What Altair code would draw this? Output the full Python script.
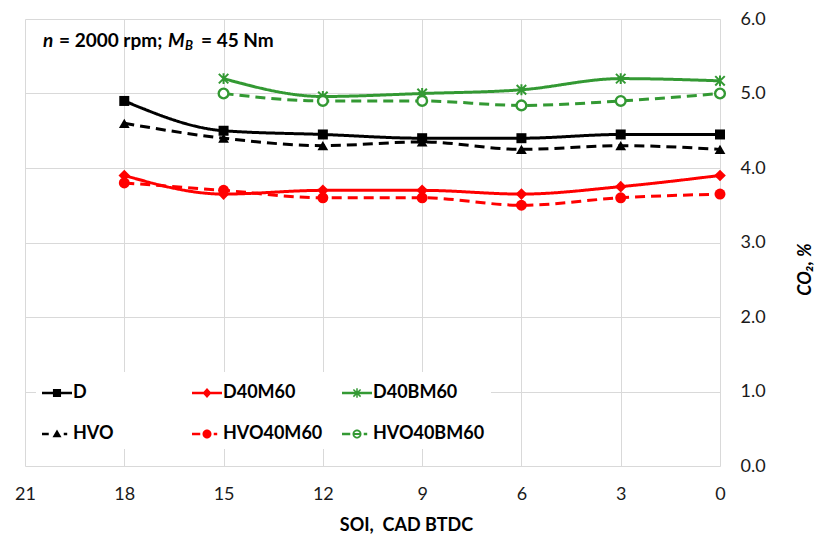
import math
import altair as alt
import pandas as pd

# ---------------- data ----------------
soi = [18, 15, 12, 9, 6, 3, 0]
series_order = ["D", "HVO", "D40M60", "HVO40M60", "D40BM60", "HVO40BM60"]
d_vals = [4.90, 4.50, 4.45, 4.40, 4.40, 4.45, 4.45]
hvo_vals = [4.60, 4.40, 4.30, 4.35, 4.25, 4.30, 4.25]
d40m60_vals = [3.90, 3.65, 3.70, 3.70, 3.65, 3.75, 3.90]
hvo40m60_vals = [3.80, 3.70, 3.60, 3.60, 3.50, 3.60, 3.65]
d40bm60_vals = [None, 5.20, 4.96, 5.00, 5.05, 5.20, 5.17]
hvo40bm60_vals = [None, 5.00, 4.90, 4.90, 4.84, 4.90, 5.00]
x_ticks = [21, 18, 15, 12, 9, 6, 3, 0]
y_ticks = [0, 1, 2, 3, 4, 5, 6]

all_vals = [d_vals, hvo_vals, d40m60_vals, hvo40m60_vals, d40bm60_vals, hvo40bm60_vals]
rows = []
for name, vals in zip(series_order, all_vals):
    for s, v in zip(soi, vals):
        if v is not None:
            rows.append({"soi": s, "co2": v, "series": name})
df = pd.DataFrame(rows)

# ---------------- styles ----------------
BLACK, RED, GREEN = "#000000", "#FF0000", "#339933"
series_colors = [BLACK, BLACK, RED, RED, GREEN, GREEN]
dash_patterns = [[1, 0], [10, 6], [1, 0], [10, 6], [1, 0], [10, 6]]
FONT = "Lato"
STAR = "M-1,-1L1,1M-1,1L1,-1M0,-1.15L0,1.15"


# legend symbol paths (line segment + marker), normalized [-1, 1]
def poly(points, ccw=True):
    n = len(points)
    area = sum(points[i][0] * points[(i + 1) % n][1] - points[(i + 1) % n][0] * points[i][1] for i in range(n))
    if (area > 0) != ccw:
        points = points[::-1]
    return "M" + "L".join(f"{x:.3f},{y:.3f}" for x, y in points) + "Z"


def rect(x1, x2, h, ccw=True):
    return poly([(x1, -h), (x2, -h), (x2, h), (x1, h)], ccw)


def seg(x1, y1, x2, y2, w):
    dx, dy = x2 - x1, y2 - y1
    L = math.hypot(dx, dy)
    nx, ny = -dy / L * w, dx / L * w
    return poly([(x1 + nx, y1 + ny), (x2 + nx, y2 + ny), (x2 - nx, y2 - ny), (x1 - nx, y1 - ny)])


def circ(r, ccw=True, n=28):
    return poly([(r * math.cos(2 * math.pi * k / n), r * math.sin(2 * math.pi * k / n)) for k in range(n)], ccw)


LW = 0.09
leg_D = rect(-1, 1, LW) + poly([(-0.27, -0.27), (0.27, -0.27), (0.27, 0.27), (-0.27, 0.27)])
leg_HVO = rect(-1, -0.55, LW) + poly([(0, -0.3), (0.3, 0.22), (-0.3, 0.22)]) + rect(0.45, 0.68, LW)
leg_D40M60 = rect(-1, 1, LW) + poly([(0, -0.33), (0.3, 0), (0, 0.33), (-0.3, 0)])
leg_HVO40M60 = rect(-1, -0.45, LW) + circ(0.3) + rect(0.45, 0.68, LW)
leg_D40BM60 = (rect(-1, 1, LW) + seg(-0.24, -0.24, 0.24, 0.24, 0.05)
               + seg(-0.24, 0.24, 0.24, -0.24, 0.05) + seg(0, -0.32, 0, 0.32, 0.05))
leg_HVO40BM60 = (rect(-1, -0.45, LW) + circ(0.3) + circ(0.18, ccw=False)
                 + rect(-0.18, 0.18, 0.06) + rect(0.45, 0.68, LW))
legend_paths = [leg_D, leg_HVO, leg_D40M60, leg_HVO40M60, leg_D40BM60, leg_HVO40BM60]

# ---------------- encodings ----------------
x_enc = alt.X(
    "soi:Q",
    scale=alt.Scale(domain=[0, 21], reverse=True, nice=False, zero=False),
    axis=alt.Axis(
        values=x_ticks, format="d", title="SOI,\u00a0 CAD BTDC",
        grid=True, gridColor="#d9d9d9", gridWidth=1, domain=False, ticks=False,
        labelFont=FONT, labelFontSize=18, labelColor="#1a1a1a", labelPadding=19,
        labelFlush=False, labelOverlap=False,
        titleFont=FONT, titleFontSize=18, titleFontWeight="bold", titleColor="#000000",
        titleX=381, titleY=59, titleAlign="center", titleBaseline="middle",
    ),
)
y_enc = alt.Y(
    "co2:Q",
    scale=alt.Scale(domain=[0, 6], nice=False, zero=True),
    axis=alt.Axis(
        orient="right", values=y_ticks, format=".1f", title="CO\u2082, %",
        grid=True, gridColor="#d9d9d9", gridWidth=1, domain=False, ticks=False,
        labelFont=FONT, labelFontSize=18, labelColor="#1a1a1a", labelPadding=20,
        labelAlign="left", labelBaseline="middle",
        titleFont=FONT, titleFontSize=18, titleFontWeight="bold", titleFontStyle="italic",
        titleColor="#000000", titleAngle=270, titleX=85, titleY=250,
        titleAlign="center", titleBaseline="middle",
    ),
)

base = alt.Chart(df)

lines = base.mark_line(interpolate="monotone", strokeWidth=3).encode(
    x=x_enc,
    y=y_enc,
    stroke=alt.Stroke("series:N", scale=alt.Scale(domain=series_order, range=series_colors), legend=None),
    strokeDash=alt.StrokeDash("series:N", scale=alt.Scale(domain=series_order, range=dash_patterns), legend=None),
    detail="series:N",
)

marker_styles = {
    "D": dict(shape="square", filled=True, color=BLACK, size=100),
    "HVO": dict(shape="triangle-up", filled=True, color=BLACK, size=115),
    "D40M60": dict(shape="diamond", filled=True, color=RED, size=135),
    "HVO40M60": dict(shape="circle", filled=True, color=RED, size=120),
    "D40BM60": dict(shape=STAR, filled=False, stroke=GREEN, strokeWidth=2, size=90),
    "HVO40BM60": dict(shape="circle", filled=True, fill="white", stroke=GREEN, strokeWidth=2.4, size=95),
}
markers = []
for name in series_order:
    markers.append(
        base.transform_filter(alt.datum.series == name)
        .mark_point(opacity=1, **marker_styles[name])
        .encode(x=x_enc, y=y_enc)
    )

leg = alt.Legend(
    title=None, orient="none", legendX=11, legendY=353, columns=3, gridAlign="all",
    columnPadding=7, rowPadding=17, padding=6, fillColor="white",
    symbolSize=900, symbolStrokeWidth=0, symbolOpacity=1, labelOffset=1,
    labelFont=FONT, labelFontSize=18, labelFontWeight="bold", labelColor="#000000",
    labelBaseline="middle",
)
# invisible layer that only carries the legend
legend_layer = base.mark_point(filled=True, opacity=0, size=900).encode(
    x=x_enc,
    y=y_enc,
    fill=alt.Fill("series:N", scale=alt.Scale(domain=series_order, range=series_colors), legend=leg),
    shape=alt.Shape("series:N", scale=alt.Scale(domain=series_order, range=legend_paths), legend=leg),
)

# annotation "n = 2000 rpm; M_B = 45 Nm"
ann_texts = ["n", "= 2000 rpm;", "M", "B", "= 45 Nm"]
ann_x = [18, 34, 143, 160, 176]
ann_y = [27.5, 27.5, 27.5, 31, 27.5]
ann_size = [19, 19, 19, 13, 19]
ann_style = ["italic", "normal", "italic", "italic", "normal"]
texts = []
for t, xx, yy, fs, st in zip(ann_texts, ann_x, ann_y, ann_size, ann_style):
    texts.append(
        alt.Chart(alt.Data(values=[{"k": 0}]))
        .mark_text(text=t, align="left", baseline="alphabetic", font=FONT, fontSize=fs,
                   fontWeight="bold", fontStyle=st, color="#000000")
        .encode(x=alt.value(xx), y=alt.value(yy))
    )

chart = (
    alt.layer(legend_layer, lines, *markers, *texts)
    .properties(
        width=695, height=447,
        autosize=alt.AutoSizeParams(type="none"),
        padding={"left": 25, "top": 19, "right": 98, "bottom": 73},
        background="white",
    )
    .configure_view(strokeWidth=0)
)

chart.save("out.html", embed_options={"renderer": "svg", "actions": False})
